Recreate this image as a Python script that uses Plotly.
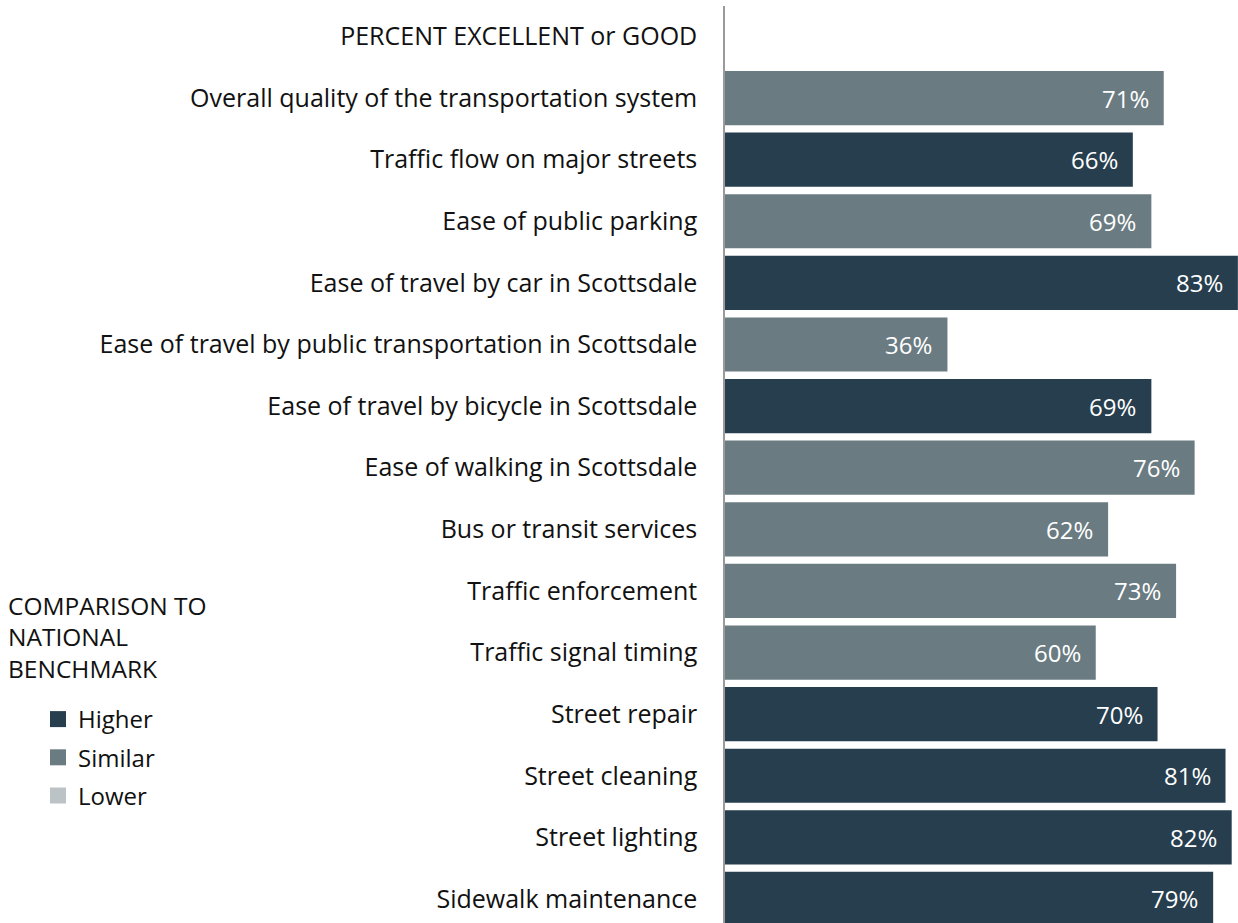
import plotly.graph_objects as go

categories = [
    "PERCENT EXCELLENT or GOOD",
    "Overall quality of the transportation system",
    "Traffic flow on major streets",
    "Ease of public parking",
    "Ease of travel by car in Scottsdale",
    "Ease of travel by public transportation in Scottsdale",
    "Ease of travel by bicycle in Scottsdale",
    "Ease of walking in Scottsdale",
    "Bus or transit services",
    "Traffic enforcement",
    "Traffic signal timing",
    "Street repair",
    "Street cleaning",
    "Street lighting",
    "Sidewalk maintenance",
]
values = [None, 71, 66, 69, 83, 36, 69, 76, 62, 73, 60, 70, 81, 82, 79]
comparison = [None, "Similar", "Higher", "Similar", "Higher", "Similar", "Higher",
              "Similar", "Similar", "Similar", "Similar", "Higher", "Higher", "Higher", "Higher"]
levels = ["Higher", "Similar", "Lower"]
colors = {"Higher": "#273e4f", "Similar": "#6a7b82", "Lower": "#bcc3c6"}
legend_title_lines = ["COMPARISON TO", "NATIONAL", "BENCHMARK"]

FONT = "Open Sans"
FS = 25
W, H = 1238, 923
L = 725
T = 6

fig = go.Figure()
for lv in levels:
    xs = [v for v, c in zip(values, comparison) if c == lv]
    ys = [cat for cat, c in zip(categories, comparison) if c == lv]
    fig.add_trace(go.Bar(
        x=xs, y=ys, orientation="h", width=0.88,
        marker=dict(color=colors[lv], line=dict(width=0)),
        showlegend=False, hoverinfo="x+y", name=lv, cliponaxis=True,
    ))
# legend-only entries
for lv in levels:
    fig.add_trace(go.Scatter(
        x=[None], y=[None], mode="markers", name=lv,
        marker=dict(symbol="square", size=17, color=colors[lv]),
        legendgroup=lv, showlegend=True,
    ))

for v, cat in zip(values, categories):
    if v is None:
        continue
    fig.add_annotation(x=v, y=cat, xref="x", yref="y", text=f"{v}%",
                       showarrow=False, xanchor="right", xshift=-13,
                       font=dict(family=FONT, size=24, color="white"))

for i, line in enumerate(legend_title_lines):
    px_y = 605 + i * 31.5
    fig.add_annotation(x=(6 - L) / (W - L), y=(H - px_y) / (H - T),
                       xref="paper", yref="paper",
                       text=line, showarrow=False, xanchor="left", yanchor="middle",
                       font=dict(family=FONT, size=24.5, color="#111"))

fig.update_layout(
    width=W, height=H,
    margin=dict(l=L, r=0, t=T, b=0, pad=0, autoexpand=False),
    plot_bgcolor="white", paper_bgcolor="white",
    font=dict(family=FONT, size=FS, color="#111"),
    barmode="overlay",
    xaxis=dict(range=[0, 83.02], showgrid=False, zeroline=False, showticklabels=False,
               showline=False, fixedrange=True, automargin=False),
    yaxis=dict(categoryorder="array", categoryarray=categories,
               range=[14.39, -0.494], showgrid=False, zeroline=False,
               showline=True, linecolor="#9a9a9a", linewidth=1.5,
               ticks="", ticklabelstandoff=21, automargin=False,
               tickfont=dict(family=FONT, size=FS, color="#111")),
    legend=dict(xref="container", yref="container", x=38 / W, y=1 - 697 / H,
                xanchor="left", yanchor="top", traceorder="grouped",
                tracegroupgap=4, font=dict(family=FONT, size=24, color="#111"),
                bgcolor="rgba(0,0,0,0)", itemclick=False),
    showlegend=True,
)

fig.write_html("out.html", config={"displayModeBar": False},
               post_script="document.body.style.margin='0';document.body.style.overflow='hidden';")
